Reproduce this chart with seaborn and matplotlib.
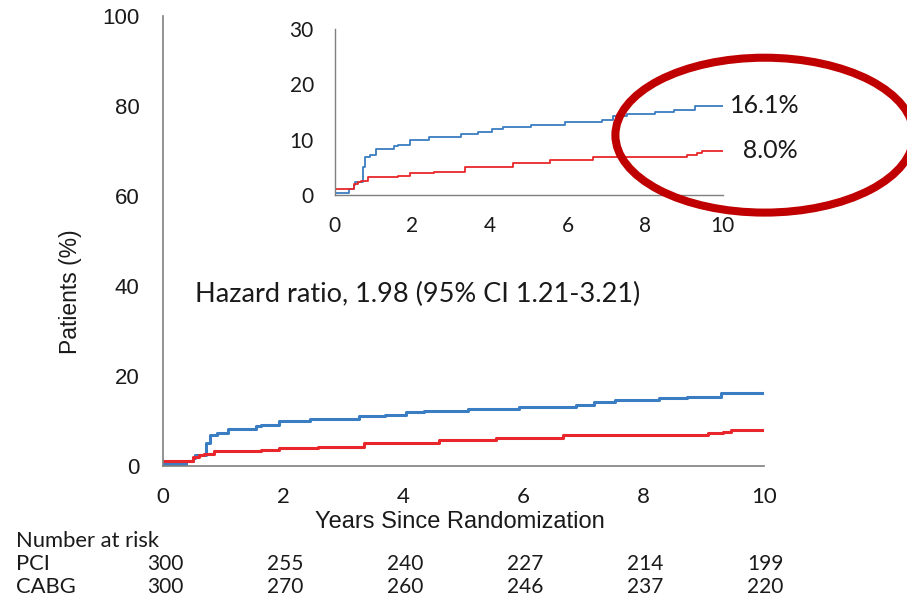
import numpy as np
import pandas as pd
import matplotlib
matplotlib.use("Agg")
import matplotlib.pyplot as plt
from matplotlib.patches import Ellipse
import seaborn as sns

# cumulative incidence step data (years, %)
pci_t = [0, 0.38, 0.5, 0.53, 0.72, 0.78, 0.9, 1.07, 1.54, 1.63, 1.93, 2.44, 3.26, 3.7,
         4.04, 4.34, 5.07, 5.93, 6.88, 7.18, 7.52, 8.25, 8.73, 9.29, 10]
pci_v = [0.3, 1.0, 1.8, 2.4, 5.0, 6.8, 7.2, 8.3, 8.8, 9.1, 10.0, 10.4, 11.0, 11.4,
         11.9, 12.3, 12.7, 13.1, 13.5, 14.3, 14.6, 15.0, 15.4, 16.1, 16.1]
cabg_t = [0, 0.5, 0.6, 0.68, 0.85, 1.63, 1.93, 2.57, 3.35, 4.6, 5.54, 6.66, 9.07, 9.33, 9.46, 10]
cabg_v = [1.1, 2.0, 2.3, 2.6, 3.2, 3.5, 3.9, 4.2, 5.1, 5.7, 6.3, 6.8, 7.2, 7.6, 8.0, 8.0]

risk_years = [0, 2, 4, 6, 8, 10]
risk_pci = [300, 255, 240, 227, 214, 199]
risk_cabg = [300, 270, 260, 246, 237, 220]

hr_text = "Hazard ratio, 1.98 (95% CI 1.21-3.21)"

df = pd.concat([
    pd.DataFrame({"Years": pci_t, "Pct": pci_v, "Group": "PCI"}),
    pd.DataFrame({"Years": cabg_t, "Pct": cabg_v, "Group": "CABG"}),
])
pal = {"PCI": "#3a7dc2", "CABG": "#e8262b"}

sns.set_style("white")
plt.rcParams["font.family"] = ["Liberation Sans", "DejaVu Sans"]
calib = ["Lato", "DejaVu Sans"]
grey = "#7f7f7f"
txt = "#1a1a1a"

fig = plt.figure(figsize=(9.07, 5.98), dpi=100)
ax = fig.add_axes([0.180, 0.221, 0.662, 0.752])
sns.lineplot(data=df, x="Years", y="Pct", hue="Group", palette=pal, drawstyle="steps-post",
             estimator=None, linewidth=2.2, legend=False, ax=ax)
ax.set_xlim(0, 10)
ax.set_ylim(0, 100)
ax.set_xticks(range(0, 11, 2))
ax.set_yticks(range(0, 101, 20))
for s in ["top", "right"]:
    ax.spines[s].set_visible(False)
for s in ["left", "bottom"]:
    ax.spines[s].set_color(grey)
    ax.spines[s].set_linewidth(1.2)
ax.tick_params(direction="out", length=7, width=1.2, color=grey, labelsize=16, labelcolor=txt)
ax.tick_params(axis="y", pad=10)
ax.tick_params(axis="x", pad=8, labelsize=16)
for lab in ax.get_xticklabels():
    lab.set_family(calib)
ax.set_xlabel("")
ax.set_ylabel("Patients (%)", fontsize=16.5, color=txt)
ax.yaxis.set_label_coords(-0.136, 0.387)
ax.text(4.94, -0.124, "Years Since Randomization", transform=ax.get_xaxis_transform(),
        ha="center", va="center", fontsize=17, color=txt)
ax.text(0.53, 38, hr_text, fontsize=19.5, color=txt, va="center", family=calib)

# number at risk table
trans = ax.get_xaxis_transform()
row_y = [-0.18, -0.231, -0.282]
ax.text(-2.45, row_y[0], "Number at risk", transform=trans, fontsize=15.8, color=txt, va="baseline", family=calib)
ax.text(-2.45, row_y[1], "PCI", transform=trans, fontsize=15.8, color=txt, va="baseline", family=calib)
ax.text(-2.45, row_y[2], "CABG", transform=trans, fontsize=15.8, color=txt, va="baseline", family=calib)
for yr, a, b in zip(risk_years, risk_pci, risk_cabg):
    ax.text(yr + 0.03, row_y[1], str(a), transform=trans, fontsize=15, color=txt, ha="center",
            va="baseline", family=calib)
    ax.text(yr + 0.03, row_y[2], str(b), transform=trans, fontsize=15, color=txt, ha="center",
            va="baseline", family=calib)

# inset
ins = fig.add_axes([0.369, 0.674, 0.428, 0.278])
ins.patch.set_alpha(0)
sns.lineplot(data=df, x="Years", y="Pct", hue="Group", palette=pal, drawstyle="steps-post",
             estimator=None, linewidth=1.3, legend=False, ax=ins)
ins.set_xlim(0, 10)
ins.set_ylim(0, 30)
ins.set_xticks(range(0, 11, 2))
ins.set_yticks(range(0, 31, 10))
for s in ["top", "right"]:
    ins.spines[s].set_visible(False)
for s in ["left", "bottom"]:
    ins.spines[s].set_color(grey)
    ins.spines[s].set_linewidth(1.0)
ins.tick_params(direction="out", length=5, width=1.0, color=grey, labelsize=15, labelcolor=txt)
ins.tick_params(axis="y", pad=10)
ins.tick_params(axis="x", pad=10)
for lab in ins.get_xticklabels() + ins.get_yticklabels():
    lab.set_family(calib)
ins.set_xlabel("")
ins.set_ylabel("")
ins.text(10.18, pci_v[-1], f"{pci_v[-1]:.1f}%", fontsize=18, color=txt, va="center",
         clip_on=False, family=calib)
ins.text(10.18, cabg_v[-1], f"{cabg_v[-1]:>5.1f}%", fontsize=18, color=txt, va="center",
         clip_on=False, family=calib)

ell = Ellipse((0.843, 0.774), 0.329, 0.259, transform=fig.transFigure, fill=False,
              edgecolor="#c00000", linewidth=5.8, zorder=5)
fig.add_artist(ell)

fig.savefig("out.png", dpi=100)
